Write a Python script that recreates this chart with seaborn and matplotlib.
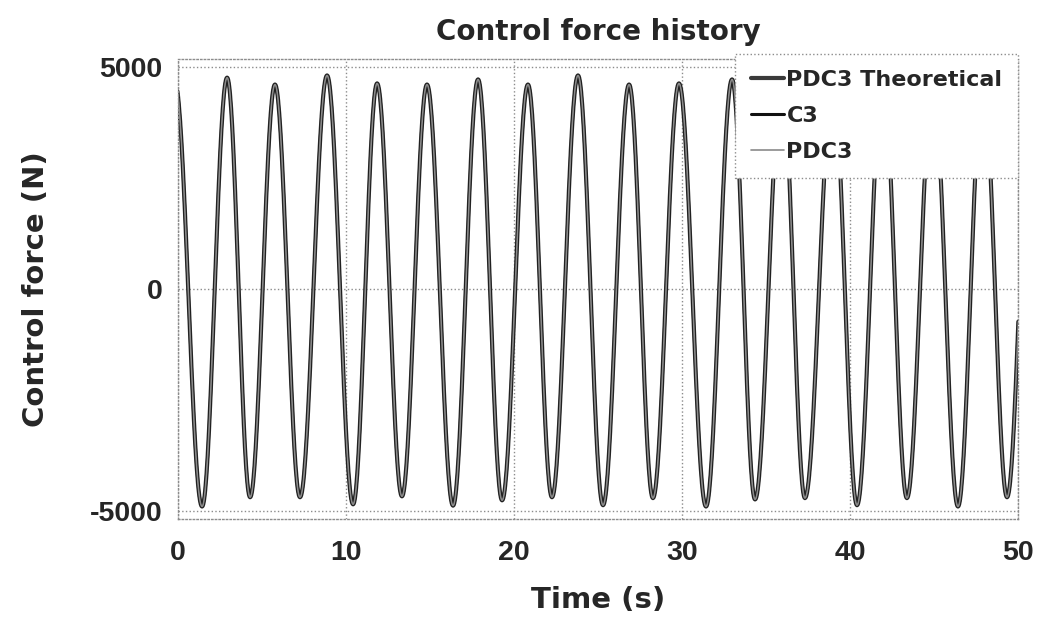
import numpy as np
import pandas as pd
import matplotlib
matplotlib.use("Agg")
import matplotlib.pyplot as plt
import seaborn as sns

# Turning points of the control force signal: time (s) and force (N)
peak_times = [-0.20, 2.92, 5.77, 8.87, 11.85, 14.82, 17.86, 20.83, 23.81, 26.85,
              29.82, 32.98, 35.95, 38.99, 41.96, 44.94, 47.92, 50.85]
peak_values = [4700, 4770, 4615, 4820, 4640, 4615, 4730, 4615, 4820, 4615,
               4640, 4730, 4750, 4650, 4800, 4650, 4700, 4700]
trough_times = [1.43, 4.29, 7.26, 10.42, 13.33, 16.37, 19.29, 22.26, 25.30,
                28.27, 31.43, 34.35, 37.32, 40.42, 43.39, 46.43, 49.35]
trough_values = [-4910, -4700, -4700, -4860, -4680, -4890, -4770, -4700, -4880,
                 -4720, -4910, -4750, -4720, -4880, -4720, -4910, -4700]

series_names = ["PDC3 Theoretical", "C3", "PDC3"]
series_colors = ["#3a3a3a", "#111111", "#8a8a8a"]
series_widths = [3.0, 2.2, 1.2]

x_ticks = [0, 10, 20, 30, 40, 50]
y_ticks = [-5000, 0, 5000]


def oscillation(times, values, n=40):
    """Smooth half-cosine swings between successive turning points."""
    order = np.argsort(times)
    t = np.asarray(times, float)[order]
    v = np.asarray(values, float)[order]
    ts, vs = [], []
    for i in range(len(t) - 1):
        s = np.linspace(t[i], t[i + 1], n, endpoint=False)
        mid = (v[i] + v[i + 1]) / 2
        half = (v[i] - v[i + 1]) / 2
        ts.append(s)
        vs.append(mid + half * np.cos(np.pi * (s - t[i]) / (t[i + 1] - t[i])))
    ts.append([t[-1]])
    vs.append([v[-1]])
    return np.concatenate(ts), np.concatenate(vs)


t_all, f_all = oscillation(peak_times + trough_times, peak_values + trough_values)
frames = [pd.DataFrame({"Time": t_all, "Force": f_all, "Series": name})
          for name in series_names]
data = pd.concat(frames, ignore_index=True)

sns.set_theme(style="white")
plt.rcParams["font.family"] = ["DejaVu Sans"]
plt.rcParams["axes.unicode_minus"] = False
text_color = "#262626"
frame_color = "#8c8c8c"

fig = plt.figure(figsize=(10.4, 6.23), dpi=100)
ax = fig.add_axes([0.1712, 0.167, 0.8076, 0.7383])

for name, color, lw in zip(series_names, series_colors, series_widths):
    sns.lineplot(data=data[data["Series"] == name], x="Time", y="Force",
                 ax=ax, color=color, linewidth=lw, label=name,
                 estimator=None, sort=False)

ax.set_xlim(0, 50)
ax.set_ylim(-5190, 5190)
ax.set_xticks(x_ticks)
ax.set_yticks(y_ticks)
ax.grid(True, linestyle=":", color=frame_color, linewidth=1.0)
for sp in ax.spines.values():
    sp.set_color(frame_color)
    sp.set_linewidth(1.0)
    sp.set_linestyle(":")
ax.tick_params(axis="both", direction="in", length=0, colors=text_color)
ax.tick_params(axis="x", pad=15)
ax.tick_params(axis="y", pad=11)
for lab in ax.get_xticklabels() + ax.get_yticklabels():
    lab.set_fontfamily("Liberation Sans")
    lab.set_fontweight("bold")
    lab.set_fontsize(20.5)

ax.set_title("Control force history", fontsize=20, fontweight="bold",
             color=text_color, pad=14)
ax.set_xlabel("Time (s)", fontsize=21, fontweight="bold", color=text_color)
ax.set_ylabel("Control force (N)", fontsize=21, fontweight="bold",
              color=text_color)
ax.xaxis.set_label_coords(0.5, -0.146)
ax.yaxis.set_label_coords(-0.152, 0.5)

leg = ax.legend(loc="upper right", bbox_to_anchor=(1.0, 1.01), fontsize=16,
                handlelength=1.5, handletextpad=0.1, labelspacing=0.72,
                borderaxespad=0.0, borderpad=0.7, frameon=True,
                fancybox=False, framealpha=1.0)
leg.get_frame().set_edgecolor(frame_color)
leg.get_frame().set_linestyle(":")
for txt in leg.get_texts():
    txt.set_fontweight("bold")
    txt.set_color(text_color)

fig.savefig("out.png", dpi=100, facecolor="white")
